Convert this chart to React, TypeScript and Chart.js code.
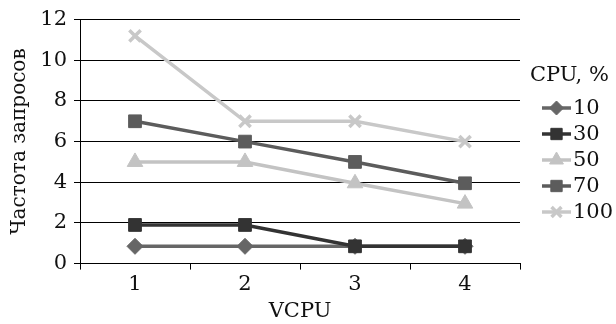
import React, { useEffect, useRef } from "react";
import { Chart, registerables } from "chart.js";
import { drawPoint } from "chart.js/helpers";

Chart.register(...registerables);

const categories = ["1", "2", "3", "4"];
const seriesLabels = ["10", "30", "50", "70", "100"];
const cpu10 = [0.85, 0.85, 0.85, 0.85];
const cpu30 = [1.9, 1.9, 0.85, 0.85];
const cpu50 = [5, 5, 3.95, 2.95];
const cpu70 = [7, 6, 5, 3.95];
const cpu100 = [11.2, 7, 7, 6];
const yTitle = "Частота запросов";
const xTitle = "VCPU";
const legendTitle = "CPU, %";

const FONT = "'DejaVu Serif', serif";

const styles = [
  { color: "#666666", point: "rectRot", radius: 8 },
  { color: "#333333", point: "rect", radius: 9 },
  { color: "#c3c3c3", point: "triangle", radius: 9 },
  { color: "#5c5c5c", point: "rect", radius: 9 },
  { color: "#c8c8c8", point: "crossRot", radius: 8 },
];

const legendPlugin = {
  id: "customLegend",
  afterDraw(chart: any) {
    const ctx = chart.ctx;
    const area = chart.chartArea;
    ctx.save();
    ctx.fillStyle = "#111";
    ctx.font = `21px ${FONT}`;
    ctx.textBaseline = "middle";
    ctx.textAlign = "left";
    ctx.fillText(legendTitle, area.right + 10, 76);
    chart.data.datasets.forEach((ds: any, i: number) => {
      const y = 108 + i * 26;
      const lx0 = 542;
      const lx1 = 571;
      ctx.strokeStyle = ds.borderColor;
      ctx.lineWidth = 3.5;
      ctx.beginPath();
      ctx.moveTo(lx0, y);
      ctx.lineTo(lx1, y);
      ctx.stroke();
      ctx.fillStyle = ds.pointBackgroundColor;
      ctx.strokeStyle = ds.pointBorderColor;
      ctx.lineWidth = ds.pointBorderWidth;
      drawPoint(
        ctx,
        {
          pointStyle: ds.pointStyle,
          radius: ds.pointRadius - 1,
          rotation: 0,
          borderWidth: ds.pointBorderWidth,
        } as any,
        (lx0 + lx1) / 2,
        y
      );
      ctx.fillStyle = "#111";
      ctx.font = `21px ${FONT}`;
      ctx.fillText(seriesLabels[i], 573, y + 1);
    });
    ctx.restore();
  },
};

export default function App() {
  const ref = useRef<HTMLCanvasElement>(null);
  useEffect(() => {
    if (!ref.current) return;
    const data = [cpu10, cpu30, cpu50, cpu70, cpu100];
    const chart = new Chart(ref.current, {
      type: "line",
      data: {
        labels: categories,
        datasets: data.map((d, i) => ({
          label: seriesLabels[i],
          data: d,
          borderColor: styles[i].color,
          backgroundColor: styles[i].color,
          pointBackgroundColor: styles[i].color,
          pointBorderColor: styles[i].color,
          pointStyle: styles[i].point as any,
          pointRadius: styles[i].radius,
          pointBorderWidth: i === 4 ? 3.5 : 1,
          borderWidth: 3.5,
          tension: 0,
          order: 5 - i,
        })),
      },
      options: {
        animation: false,
        responsive: false,
        maintainAspectRatio: false,
        layout: { padding: { left: 0, right: 96, top: 10, bottom: 0 } },
        plugins: {
          legend: { display: false },
          tooltip: { enabled: false },
        },
        scales: {
          x: {
            type: "category",
            offset: true,
            border: { color: "#000", width: 1 },
            grid: {
              offset: true,
              drawOnChartArea: false,
              color: "#000",
              tickLength: 6,
            },
            ticks: { color: "#111", font: { family: FONT, size: 21 }, padding: 2 },
            title: {
              display: true,
              text: xTitle,
              color: "#111",
              font: { family: FONT, size: 21 },
              padding: { top: 0, bottom: 0 },
            },
          },
          y: {
            min: 0,
            max: 12,
            border: { color: "#000", width: 1 },
            grid: { color: "#000", tickLength: 6 },
            ticks: { stepSize: 2, color: "#111", font: { family: FONT, size: 21 }, padding: 7 },
            title: {
              display: true,
              text: yTitle,
              color: "#111",
              font: { family: FONT, size: 20 },
              padding: { top: 8, bottom: 0 },
            },
            afterFit(scale: any) {
              scale.width = 80;
            },
          },
        },
      },
      plugins: [legendPlugin],
    });
    return () => chart.destroy();
  }, []);
  return (
    <div style={{ position: "fixed", left: 0, top: 0, width: 616, height: 324, background: "#fff" }}>
      <canvas ref={ref} width={616} height={324} style={{ width: 616, height: 324 }} />
    </div>
  );
}
